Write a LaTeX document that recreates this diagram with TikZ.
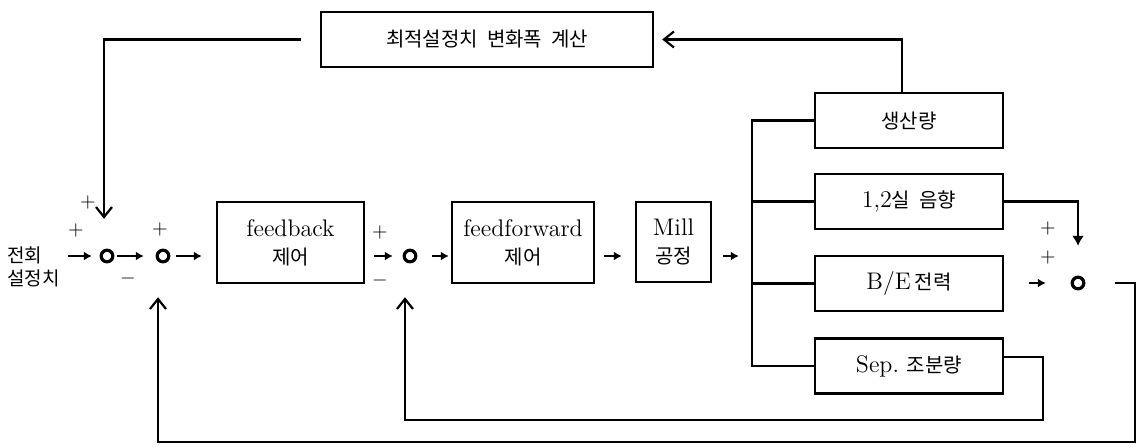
\documentclass[tikz,border=0pt]{standalone}
\usepackage{fontspec}
\newfontfamily\kr{Noto Sans CJK KR}
\newcommand{\ko}[1]{{\kr\fontsize{10}{12}\selectfont #1}}
\usetikzlibrary{arrows.meta}
\usetikzlibrary{positioning}
\tikzset{>=latex}

\begin{document}
\begin{tikzpicture}[x=0.5pt, y=-0.5pt,
	block/.style={draw, line width=1.2pt, inner sep=0pt, align=center, font=\large},
	outbox/.style={block, minimum width=94pt, minimum height=27.5pt},
	sum/.style={circle, draw, line width=1.6pt, inner sep=0pt, minimum size=5.8pt},
	sign/.style={inner sep=0pt},
	fwd/.style={-{Latex[length=4pt,width=4.5pt]}, line width=1.3pt},
	back/.style={-{Straight Barb[length=5pt,width=8pt]}, line width=1.1pt},
	wire/.style={line width=1.1pt}]
	\useasboundingbox (0,0) rectangle (1138,447);
	% forward path
	\node[anchor=west, align=left, inner sep=0pt, font={\kr\fontsize{9.5}{11.5}\selectfont}] (ref) at (7,267) {전회\\설정치};
	\node[sum] (c1) at (107,256) {};
	\node[sum] (c2) at (163,256) {};
	\node[block, minimum width=73.5pt, minimum height=40.5pt] (fb) at (290.5,242.5) {feedback\\\ko{제어}};
	\node[sum] (c3) at (410,256) {};
	\node[block, minimum width=71pt, minimum height=40.5pt] (ff) at (523,242.5) {feedforward\\\ko{제어}};
	\node[block, minimum width=37.5pt, minimum height=40pt] (mill) at (673.5,242) {Mill\\\ko{공정}};
	% outputs
	\node[outbox] (prod) at (909,120.5) {\ko{생산량}};
	\node[outbox] (sound) at (909,201.5) {1,2\ko{실\ \ 음향}};
	\node[outbox] (power) at (909,283.5) {B/E\,\ko{전력}};
	\node[outbox] (sep) at (909,366) {Sep.\ \ko{조분량}};
	\node[sum] (c4) at (1078,283) {};
	\node[block, minimum width=166pt, minimum height=27.5pt] (calc) at (487,39.5) {\ko{최적설정치\ \ 변화폭\ \ 계산}};
	\coordinate (bus) at ([xshift=-31pt]prod.west);
	\coordinate (out) at (1135,442);
	\coordinate (sepfb) at (1043,420);
	% signs
	\node[sign] (p1) at (76,230) {$+$};
	\node[sign] (p2) at (88,202) {$+$};
	\node[sign] (p3) at (160,229) {$+$};
	\node[sign] (m1) at (128,278) {$-$};
	\node[sign] (p4) at (380,232) {$+$};
	\node[sign] (m2) at (380,280) {$-$};
	\node[sign] (p5) at (1048,228) {$+$};
	\node[sign] (p6) at (1048,257) {$+$};
	% arrows
	\draw[fwd, shorten <=4pt, shorten >=3.9pt] (ref.east |- c1) -- (c1);
	\draw[fwd, shorten <=1.5pt, shorten >=5.9pt] (c1) -- (c2);
	\draw[fwd, shorten <=2.9pt, shorten >=7pt] (c2) -- (c2 -| fb.west);
	\draw[fwd, shorten <=4.5pt, shorten >=4.9pt] (c3 -| fb.east) -- (c3);
	\draw[fwd, shorten <=7.4pt, shorten >=1pt] (c3) -- (c3 -| ff.west);
	\draw[fwd, shorten <=4.5pt, shorten >=6.5pt] (c3 -| ff.east) -- (c3 -| mill.west);
	\draw[fwd, shorten <=5.5pt, shorten >=6.5pt] (mill.east |- c3) -- (bus |- c3);
	\draw[wire] (prod.west) -- (bus) |- (sep.west);
	\draw[wire] (bus |- sound) -- (sound.west);
	\draw[wire] (bus |- power) -- (power.west);
	\draw[wire, -{Latex[length=5pt,width=6pt]}, shorten >=14.9pt] (sound.east) -| (c4);
	\draw[fwd, shorten <=12.5pt, shorten >=12.4pt] (power.east |- c4) -- (c4);
	% feedback loops
	\draw[back, shorten >=4pt] ([xshift=-3.5pt]prod.north) |- (calc.east);
	\draw[back, shorten <=9.5pt, shorten >=14.9pt] (calc.west) -| ([xshift=-1.5pt]c1.north);
	\draw[back, shorten <=14.6pt, shorten >=16.9pt] (c4) -| (out) -| ([xshift=-2.5pt]c2.south);
	\draw[back, shorten >=16.9pt] ([yshift=4.5pt]sep.east) -| (sepfb) -| ([xshift=-2.5pt]c3.south);
\end{tikzpicture}
\end{document}
